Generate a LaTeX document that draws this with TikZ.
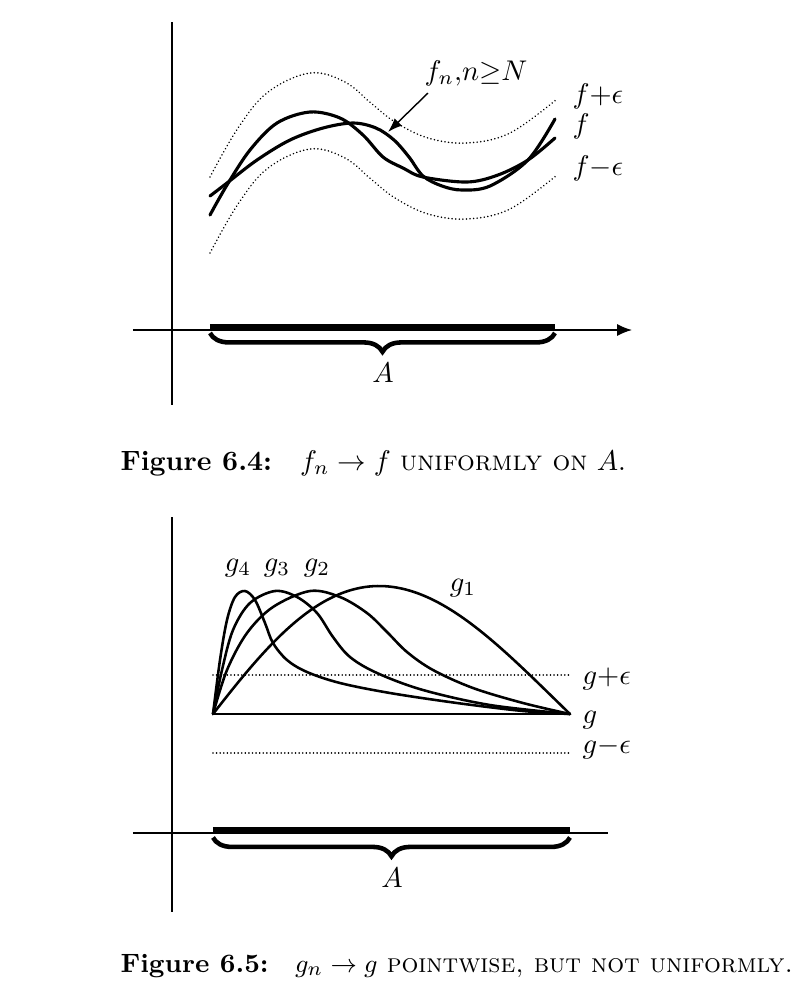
\documentclass[tikz,border=0pt]{standalone}
\usetikzlibrary{arrows.meta,decorations.pathreplacing}
\begin{document}
\begin{tikzpicture}[x=0.351pt,y=-0.351pt,
  axis/.style={line width=0.5pt},
  curve/.style={line width=1.1pt, line join=round, line cap=round},
  gcurve/.style={line width=0.9pt, line join=round, line cap=round},
  dotline/.style={line width=0.6pt, dash pattern=on 0.01pt off 1.25pt, line cap=round},
  seg/.style={line width=2.3pt},
  bracestyle/.style={line width=1.6pt, decorate, decoration={brace,mirror,amplitude=6.6pt}},
  lab/.style={inner sep=0pt},
  caption/.style={inner sep=0pt, anchor=west, font=\fontsize{9.3}{11}\selectfont}]
\useasboundingbox (0,0) rectangle (808,1005);

% ---------------- Figure 6.4 ----------------
\coordinate (yTop1) at (172,22);
\coordinate (yBot1) at (172,405);
\draw[axis] (yTop1) -- (yBot1);
\coordinate (xL1) at (133,330);
\coordinate (xR1) at (632,330);
\draw[axis,-{Latex[length=5.2pt,width=4.2pt]}] (xL1) -- (xR1);
\coordinate (aL1) at (210,327.5);
\coordinate (aR1) at (555,327.5);
\draw[seg] (aL1) -- (aR1);
\coordinate (bL1) at (210,333);
\coordinate (bR1) at (555,333);
\draw[bracestyle] (bL1) -- (bR1);
\node[lab] (A1) at (383,373) {$A$};

% f
\draw[curve] plot[smooth,tension=0.55] coordinates {(210,215) (227,185) (250,150) (277,123) (310,112) (340,118) (363,135) (383,157) (403,168) (423,177) (467,182) (498,175) (528,160) (555,138)};
% f + eps
\draw[dotline] plot[smooth,tension=0.6] coordinates {(210,177) (238,128) (268,92) (310,73) (345,82) (372,104) (395,122) (428,138) (467,143) (510,133) (557,99)};
% f - eps
\draw[dotline] plot[smooth,tension=0.6] coordinates {(210,253) (238,204) (268,168) (310,149) (345,158) (372,180) (395,198) (428,214) (467,219) (510,209) (557,175)};
% f_n
\draw[curve] plot[smooth,tension=0.55] coordinates {(210,196) (227,183) (257,160) (290,140) (323,128) (353,123) (376,128) (394,140) (409,157) (423,176) (442,186) (462,190) (490,186) (528,160) (555,119)};

\node[lab] (fnlab) at (476,73) {$f_n{,}n{\geq}N$};
\coordinate (fnS) at (428,93);
\coordinate (fnT) at (388,132);
\draw[line width=0.5pt,-{Latex[length=5pt,width=3.6pt]}] (fnS) -- (fnT);
\node[lab,anchor=west] (fpe) at (572,96) {$f{+}\epsilon$};
\node[lab,anchor=west] (flab) at (572,126) {$f$};
\node[lab,anchor=west] (fme) at (572,168) {$f{-}\epsilon$};

\node[caption, font=\fontsize{9.8}{12}\selectfont] (cap1) at (120,463) {\textbf{Figure 6.4:}\quad $f_n\to f$ \textsc{uniformly on} $A$.};

% ---------------- Figure 6.5 ----------------
\coordinate (yTop2) at (172,517);
\coordinate (yBot2) at (172,912);
\draw[axis] (yTop2) -- (yBot2);
\coordinate (xL2) at (133,833);
\coordinate (xR2) at (608,833);
\draw[axis] (xL2) -- (xR2);
\coordinate (aL2) at (213,830);
\coordinate (aR2) at (570,830);
\draw[seg] (aL2) -- (aR2);
\coordinate (bL2) at (213,837.5);
\coordinate (bR2) at (570,837.5);
\draw[bracestyle] (bL2) -- (bR2);
\node[lab] (A2) at (392,878) {$A$};

\coordinate (gL) at (213,714);
\coordinate (gR) at (570,714);
\draw[line width=0.75pt] (gL) -- (gR);
\coordinate (gpL) at (213,675);
\coordinate (gpR) at (570,675);
\draw[dotline] (gpL) -- (gpR);
\coordinate (gmL) at (213,753);
\coordinate (gmR) at (570,753);
\draw[dotline] (gmL) -- (gmR);

% g1
\draw[gcurve] plot[domain=0:1,samples=90,smooth] ({213+357*\x},{714-128*sin(180*(\x+0.14*\x*(1-\x)))});
% g2
\draw[gcurve] plot[smooth,tension=0.55] coordinates {(213,714) (227,670) (247,633) (273,607) (310,591) (340,597) (367,613) (387,632) (407,652) (433,670) (473,688) (523,703) (570,714)};
% g3
\draw[gcurve] plot[smooth,tension=0.55] coordinates {(213,714) (222,670) (233,630) (250,603) (275,591) (297,597) (317,613) (333,637) (350,657) (377,673) (423,690) (490,705) (570,714)};
% g4
\draw[gcurve] plot[smooth,tension=0.55] coordinates {(213,714) (220,660) (227,620) (235,597) (245,591) (255,600) (265,623) (273,643) (287,660) (307,672) (340,683) (390,693) (457,703) (523,711) (570,714)};

\node[lab] (g4lab) at (238,568) {$g_4$};
\node[lab] (g3lab) at (277,568) {$g_3$};
\node[lab] (g2lab) at (317,568) {$g_2$};
\node[lab] (g1lab) at (463,588) {$g_1$};
\node[lab,anchor=west] (gpe) at (582,679) {$g{+}\epsilon$};
\node[lab,anchor=west] (glab) at (582,720) {$g$};
\node[lab,anchor=west] (gme) at (582,748) {$g{-}\epsilon$};

\node[caption] (cap2) at (120,966) {\textbf{Figure 6.5:}\quad $g_n\to g$ \textsc{pointwise, but not uniformly.}};
\end{tikzpicture}
\end{document}
